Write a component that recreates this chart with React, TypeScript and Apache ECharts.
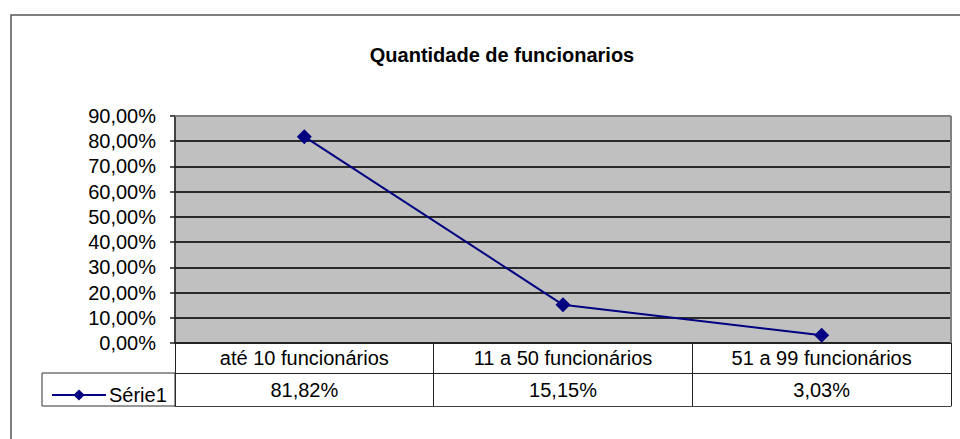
import React, { useEffect, useRef } from "react";
import * as echarts from "echarts";

const title = "Quantidade de funcionarios";
const categories = ["até 10 funcionários", "11 a 50 funcionários", "51 a 99 funcionários"];
const seriesName = "Série1";
const values = [81.82, 15.15, 3.03];
const yMax = 90;
const yStep = 10;

const fmt = (v: number) => v.toFixed(2).replace(".", ",") + "%";

export default function App() {
  const ref = useRef<HTMLDivElement>(null);
  useEffect(() => {
    document.body.style.margin = "0";
    if (!ref.current) return;
    const chart = echarts.init(ref.current, undefined, { renderer: "svg" });
    const font = "Liberation Sans, Arial, sans-serif";
    const navy = "#000080";
    const fs = 20;
    chart.setOption({
      animation: false,
      backgroundColor: "#ffffff",
      title: {
        text: title,
        left: 497,
        textAlign: "center",
        top: 40,
        textStyle: { fontFamily: font, fontSize: 20, fontWeight: "bold", color: "#000" },
      },
      legend: {
        left: 46,
        top: 380,
        itemWidth: 54,
        itemHeight: 14,
        itemGap: 4,
        textStyle: { fontFamily: font, fontSize: fs, color: "#000", padding: [0, 0, 0, -2] },
        data: [seriesName],
      },
      grid: {
        left: 175,
        right: 9,
        top: 116,
        bottom: 96,
        show: true,
        backgroundColor: "#c0c0c0",
        borderColor: "#808080",
        borderWidth: 1,
      },
      xAxis: [
        {
          type: "category",
          data: categories,
          position: "bottom",
          boundaryGap: true,
          axisLine: { show: true, lineStyle: { color: "#222", width: 1.5 } },
          axisTick: { show: true, inside: false, length: 30, lineStyle: { color: "#222", width: 1 } },
          axisLabel: { margin: 5, fontFamily: font, fontSize: fs, color: "#000", interval: 0 },
          splitLine: { show: false },
        },
        {
          type: "category",
          data: values.map((v) => fmt(v)),
          position: "bottom",
          offset: 30,
          boundaryGap: true,
          axisLine: { show: true, lineStyle: { color: "#222", width: 1 } },
          axisTick: { show: true, inside: false, length: 33, lineStyle: { color: "#222", width: 1 } },
          axisLabel: { margin: 7, fontFamily: font, fontSize: fs, color: "#000", interval: 0 },
          splitLine: { show: false },
        },
        {
          type: "category",
          data: categories,
          position: "bottom",
          offset: 63,
          boundaryGap: true,
          axisLine: { show: true, lineStyle: { color: "#444", width: 1 } },
          axisTick: { show: false },
          axisLabel: { show: false },
          splitLine: { show: false },
        },
      ],
      yAxis: {
        type: "value",
        min: 0,
        max: yMax,
        interval: yStep,
        axisLine: { show: true, lineStyle: { color: "#222", width: 1.5 } },
        axisTick: { show: true, inside: false, length: 5, lineStyle: { color: "#222", width: 1.5 } },
        axisLabel: {
          margin: 19,
          fontFamily: font,
          fontSize: fs,
          color: "#000",
          formatter: (v: number) => fmt(v),
        },
        splitLine: { show: true, lineStyle: { color: "#2a2a2a", width: 2 } },
      },
      graphic: [
        {
          type: "rect",
          shape: { x: 11, y: 15, width: 1000, height: 500 },
          style: { fill: "none", stroke: "#555", lineWidth: 1.5 },
          silent: true,
        },
        {
          type: "line",
          shape: { x1: 175, y1: 116, x2: 951, y2: 116 },
          style: { stroke: "#808080", lineWidth: 2 },
          z: 100,
        },
        {
          type: "line",
          shape: { x1: 951, y1: 116, x2: 951, y2: 343 },
          style: { stroke: "#808080", lineWidth: 2 },
          z: 100,
        },
        {
          type: "rect",
          shape: { x: 42, y: 373, width: 133, height: 33 },
          style: { fill: "none", stroke: "#333", lineWidth: 1 },
          z: 100,
        },
      ],
      series: [
        {
          name: seriesName,
          type: "line",
          xAxisIndex: 0,
          data: values,
          symbol: "diamond",
          symbolSize: 15,
          itemStyle: { color: navy },
          lineStyle: { color: navy, width: 2 },
          z: 10,
        },
      ],
    });
    return () => chart.dispose();
  }, []);
  return <div ref={ref} style={{ width: 960, height: 439 }} />;
}
